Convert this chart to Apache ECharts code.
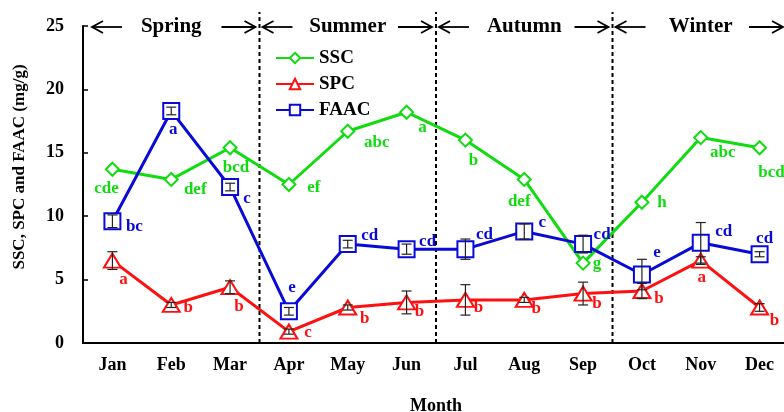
<!DOCTYPE html>
<html>
<head>
<meta charset="utf-8">
<script src="https://cdn.jsdelivr.net/npm/echarts@6/dist/echarts.min.js"></script>
<style>
  html, body { margin: 0; padding: 0; background: #fff; }
  #chart { width: 784px; height: 412px; }
</style>
</head>
<body>
<div id="chart"></div>
<script>
// Monthly soluble sugar (SSC), soluble protein (SPC) and free amino acid (FAAC) contents
var months = ['Jan', 'Feb', 'Mar', 'Apr', 'May', 'Jun', 'Jul', 'Aug', 'Sep', 'Oct', 'Nov', 'Dec'];
var yTicks = [0, 5, 10, 15, 20, 25];

var ssc  = [13.7, 12.9, 15.4, 12.5, 16.7, 18.2, 16.0, 12.9, 6.3, 11.1, 16.2, 15.4];
var spc  = [6.5, 3.0, 4.4, 0.9, 2.8, 3.2, 3.4, 3.4, 3.9, 4.1, 6.5, 2.8];
var faac = [9.6, 18.3, 12.3, 2.5, 7.8, 7.4, 7.4, 8.8, 7.8, 5.4, 7.9, 7.0];

var spcErr  = [0.7, 0.2, 0.5, 0.2, 0.2, 0.9, 1.2, 0.2, 0.9, 0.6, 0.3, 0.3];
var faacErr = [0.5, 0.3, 0.3, 0.3, 0.3, 0.4, 0.8, 0.6, 0.7, 1.2, 1.6, 0.2];

// Significance letters (Duncan groups)
var sscLetters  = ['cde', 'def', 'bcd', 'ef', 'abc', 'a', 'b', 'def', 'g', 'h', 'abc', 'bcd'];
var spcLetters  = ['a', 'b', 'b', 'c', 'b', 'b', 'b', 'b', 'b', 'b', 'a', 'b'];
var faacLetters = ['bc', 'a', 'c', 'e', 'cd', 'cd', 'cd', 'c', 'cd', 'e', 'cd', 'cd'];

// Seasons: [first month index, end boundary, name]
var seasons = [[0, 3, 'Spring'], [3, 6, 'Summer'], [6, 9, 'Autumn'], [9, 12, 'Winter']];
var seasonBreaks = [3, 6, 9];

// Label placement relative to each point (pixels)
var sscOffsets  = [[-6, 19], [24, 10], [6, 20], [25, 3], [29, 11], [16, 15], [8, 20], [-5, 22], [14, 0], [20, 0], [22, 15], [12, 25]];
var spcOffsets  = [[11, 19], [17, 3], [9, 19], [19, 1], [17, 11], [13, 9], [13, 8], [12, 9], [14, 10], [17, 8], [1, 17], [15, 13]];
var faacOffsets = [[22, 5], [2, 19], [17, 12], [3, -24], [22, -8], [21, -8], [19, -15], [18, -9], [19, -9], [15, -22], [23, -11], [5, -16]];

var FONT = '"Liberation Serif", "Times New Roman", serif';
var GREEN = '#10dc10', RED = '#ff1010', BLUE = '#0a0ad8';

function labelled(values, letters, offsets, color) {
  return values.map(function (v, i) {
    return {
      value: v,
      label: {
        show: true,
        position: 'inside',
        offset: offsets[i],
        formatter: letters[i],
        color: color,
        fontFamily: FONT,
        fontWeight: 'bold',
        fontSize: 17
      }
    };
  });
}

function errorData(values, errs) {
  return values.map(function (v, i) { return [i, v, errs[i]]; });
}

function renderError(params, api) {
  var x = api.value(0), v = api.value(1), e = api.value(2);
  var top = api.coord([x, v + e]);
  var bot = api.coord([x, v - e]);
  var w = 5;
  var style = { stroke: '#222', lineWidth: 1.2 };
  return {
    type: 'group',
    children: [
      { type: 'line', shape: { x1: top[0], y1: top[1], x2: bot[0], y2: bot[1] }, style: style },
      { type: 'line', shape: { x1: top[0] - w, y1: top[1], x2: top[0] + w, y2: top[1] }, style: style },
      { type: 'line', shape: { x1: bot[0] - w, y1: bot[1], x2: bot[0] + w, y2: bot[1] }, style: style }
    ]
  };
}

function arrowHead(tipX, y, dir) {
  // open chevron pointing left (dir = -1) or right (dir = 1)
  return {
    type: 'polyline',
    shape: { points: [[tipX - dir * 11, y - 6], [tipX, y], [tipX - dir * 11, y + 6]] },
    style: { stroke: '#000', lineWidth: 1.8, fill: null }
  };
}

function renderSeason(params, api) {
  var a = api.coord([api.value(0), 25]);
  var b = api.coord([api.value(1), 25]);
  var y = a[1] + 1;
  var left = a[0] + (params.dataIndex === 0 ? 9 : 3);
  var right = Math.min(b[0] - 4, params.coordSys.x + params.coordSys.width - 6);
  var name = seasons[params.dataIndex][2];
  var lineStyle = { stroke: '#000', lineWidth: 1.8 };
  return {
    type: 'group',
    children: [
      { type: 'line', shape: { x1: left, y1: y, x2: left + 30, y2: y }, style: lineStyle },
      arrowHead(left, y, -1),
      { type: 'line', shape: { x1: right - 34, y1: y, x2: right, y2: y }, style: lineStyle },
      arrowHead(right, y, 1),
      {
        type: 'text',
        x: (a[0] + b[0]) / 2,
        y: y,
        style: {
          text: name,
          textAlign: 'center',
          textVerticalAlign: 'middle',
          font: 'bold 21px ' + FONT,
          fill: '#000'
        }
      }
    ]
  };
}

function renderBreak(params, api) {
  var bottom = api.coord([api.value(0), 0]);
  var top = api.coord([api.value(0), 25]);
  return {
    type: 'line',
    shape: { x1: bottom[0], y1: bottom[1], x2: top[0], y2: top[1] - 14 },
    style: { stroke: '#000', lineWidth: 2, lineDash: [4, 3] }
  };
}

var chart = echarts.init(document.getElementById('chart'), null, { renderer: 'canvas' });

var option = {
  animation: false,
  backgroundColor: '#fff',
  grid: { left: 83, right: -5, top: 26, bottom: 69, containLabel: false, outerBoundsMode: 'none' },
  legend: {
    data: ['SSC', 'SPC', 'FAAC'],
    orient: 'vertical',
    left: 270,
    top: 43,
    itemWidth: 38,
    itemHeight: 13,
    itemGap: 6,
    textStyle: { fontFamily: FONT, fontWeight: 'bold', fontSize: 19, color: '#000', lineHeight: 20 }
  },
  xAxis: [
    {
      type: 'category',
      data: months,
      boundaryGap: true,
      name: 'Month',
      nameLocation: 'middle',
      nameGap: 54,
      nameTextStyle: { fontFamily: FONT, fontWeight: 'bold', fontSize: 18, color: '#000' },
      axisLine: { lineStyle: { color: '#000', width: 2 } },
      axisTick: { inside: true, length: 5, lineStyle: { color: '#000', width: 1.5 } },
      axisLabel: { margin: 13, fontFamily: FONT, fontWeight: 'bold', fontSize: 18, color: '#000' },
      splitLine: { show: false }
    },
    {
      type: 'value',
      min: 0,
      max: 12,
      show: false
    }
  ],
  yAxis: {
    type: 'value',
    min: yTicks[0],
    max: yTicks[yTicks.length - 1],
    interval: 5,
    axisLine: { show: true, lineStyle: { color: '#000', width: 2 } },
    axisTick: { show: true, inside: true, length: 5, lineStyle: { color: '#000', width: 1.5 } },
    axisLabel: { margin: 19, fontFamily: FONT, fontWeight: 'bold', fontSize: 18, color: '#000' },
    splitLine: { show: false }
  },
  graphic: [
    {
      type: 'text',
      x: 20,
      y: 167,
      rotation: Math.PI / 2,
      style: {
        text: 'SSC, SPC and FAAC (mg/g)',
        textAlign: 'center',
        textVerticalAlign: 'middle',
        font: 'bold 17px ' + FONT,
        fill: '#000'
      }
    }
  ],
  series: [
    {
      type: 'custom',
      name: 'seasonBreaks',
      xAxisIndex: 1,
      renderItem: renderBreak,
      data: seasonBreaks,
      silent: true,
      z: 1
    },
    {
      type: 'custom',
      name: 'seasonHeader',
      xAxisIndex: 1,
      renderItem: renderSeason,
      data: seasons.map(function (s) { return [s[0], s[1]]; }),
      silent: true,
      z: 1
    },
    {
      name: 'SSC',
      type: 'line',
      data: labelled(ssc, sscLetters, sscOffsets, GREEN),
      symbol: 'diamond',
      symbolSize: [13, 13],
      lineStyle: { color: GREEN, width: 3 },
      itemStyle: { color: '#fff', borderColor: GREEN, borderWidth: 2 },
      color: GREEN,
      z: 3
    },
    {
      name: 'SPC',
      type: 'line',
      data: labelled(spc, spcLetters, spcOffsets, RED),
      symbol: 'triangle',
      symbolSize: [17, 14],
      lineStyle: { color: RED, width: 3 },
      itemStyle: { color: '#fff', borderColor: RED, borderWidth: 2 },
      color: RED,
      z: 3
    },
    {
      name: 'FAAC',
      type: 'line',
      data: labelled(faac, faacLetters, faacOffsets, BLUE),
      symbol: 'rect',
      symbolSize: [16, 16],
      lineStyle: { color: BLUE, width: 3 },
      itemStyle: { color: '#fff', borderColor: BLUE, borderWidth: 2 },
      color: BLUE,
      z: 3
    },
    {
      type: 'custom',
      name: 'spcError',
      renderItem: renderError,
      data: errorData(spc, spcErr),
      silent: true,
      z: 5
    },
    {
      type: 'custom',
      name: 'faacError',
      renderItem: renderError,
      data: errorData(faac, faacErr),
      silent: true,
      z: 5
    }
  ]
};

chart.setOption(option);
</script>
</body>
</html>
